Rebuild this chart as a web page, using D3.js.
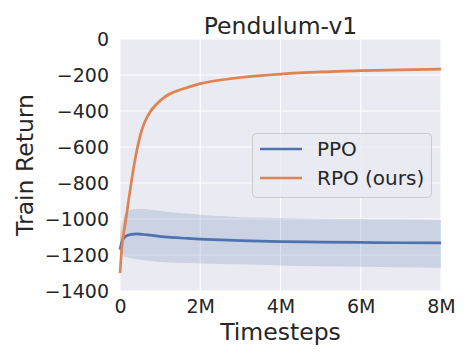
<!DOCTYPE html>
<html>
<head>
<meta charset="utf-8">
<script src="https://cdn.jsdelivr.net/npm/d3@7"></script>
<style>
  body { margin: 0; background: #fff; }
  svg { font-family: "DejaVu Sans", sans-serif; }
</style>
</head>
<body>
<svg id="chart" width="470" height="360"></svg>
<script>
// timesteps in millions
const steps = [0, 0.05, 0.12, 0.2, 0.3, 0.4, 0.5, 0.6, 0.75, 0.9, 1.1, 1.4, 1.7, 2, 2.5, 3, 4, 5, 6, 7, 8];

const rpoMean = [-1300, -1150, -1040, -920, -770, -640, -540, -470, -405, -365, -325, -290, -268, -248, -228, -214, -195, -183, -176, -171, -167];
const rpoHigh = [-1000, -1100, -1000, -885, -740, -615, -518, -452, -390, -352, -314, -281, -260, -241, -221, -208, -189, -177, -170, -165, -161];
const rpoLow = [-1320, -1210, -1085, -955, -800, -665, -562, -488, -420, -378, -336, -299, -276, -255, -235, -220, -201, -189, -182, -177, -173];

const ppoMean = [-1170, -1125, -1100, -1090, -1085, -1083, -1084, -1086, -1090, -1094, -1099, -1104, -1108, -1112, -1116, -1120, -1126, -1128, -1130, -1132, -1133];
const ppoHigh = [-1110, -1030, -975, -955, -947, -944, -944, -945, -948, -952, -958, -965, -970, -976, -984, -990, -995, -998, -1000, -1002, -1005];
const ppoLow = [-1230, -1205, -1208, -1214, -1219, -1223, -1226, -1229, -1233, -1236, -1240, -1243, -1245, -1247, -1250, -1252, -1258, -1262, -1265, -1268, -1272];

const xTicks = [0, 2, 4, 6, 8];
const xTickLabels = ['0', '2M', '4M', '6M', '8M'];
const yTicks = [0, -200, -400, -600, -800, -1000, -1200, -1400];

const series = [
    {name: 'PPO', color: '#4C72B0', mean: ppoMean, high: ppoHigh, low: ppoLow},
    {name: 'RPO (ours)', color: '#DD8452', mean: rpoMean, high: rpoHigh, low: rpoLow}
];

const margin = {left: 120, right: 29, top: 39, bottom: 69};
const width = 470, height = 360;
const textColor = '#262626';

const svg = d3.select('#chart');

const x = d3.scaleLinear().domain([0, 8]).range([margin.left, width - margin.right]);
const y = d3.scaleLinear().domain([-1400, 0]).range([height - margin.bottom, margin.top]);

// background
svg.append('rect')
    .attr('x', x(0)).attr('y', y(0))
    .attr('width', x(8) - x(0)).attr('height', y(-1400) - y(0))
    .attr('fill', '#EAEAF2');

// grid
svg.append('g').selectAll('line').data(xTicks).join('line')
    .attr('x1', d => x(d)).attr('x2', d => x(d))
    .attr('y1', y(0)).attr('y2', y(-1400))
    .attr('stroke', '#fff').attr('stroke-width', 1.1);
svg.append('g').selectAll('line').data(yTicks).join('line')
    .attr('x1', x(0)).attr('x2', x(8))
    .attr('y1', d => y(d)).attr('y2', d => y(d))
    .attr('stroke', '#fff').attr('stroke-width', 1.1);

const plot = svg.append('g');

const area = (s) => d3.area()
    .x((d, i) => x(steps[i]))
    .y0((d, i) => y(s.low[i]))
    .y1((d, i) => y(s.high[i]))
    .curve(d3.curveMonotoneX);

const line = d3.line()
    .x((d, i) => x(steps[i]))
    .y(d => y(d))
    .curve(d3.curveMonotoneX);

series.forEach(s => {
    plot.append('path')
        .datum(s.mean)
        .attr('d', area(s))
        .attr('fill', s.color)
        .attr('fill-opacity', 0.2)
        .attr('stroke', 'none');
});
series.forEach(s => {
    plot.append('path')
        .datum(s.mean)
        .attr('d', line)
        .attr('fill', 'none')
        .attr('stroke', s.color)
        .attr('stroke-width', 2.7);
});

// axes (no domain lines, seaborn darkgrid)
const xAxis = svg.append('g')
    .attr('transform', `translate(0,${y(-1400)})`)
    .call(d3.axisBottom(x).tickValues(xTicks).tickFormat((d, i) => xTickLabels[i]).tickSize(0).tickPadding(9));
const yAxis = svg.append('g')
    .attr('transform', `translate(${x(0)},0)`)
    .call(d3.axisLeft(y).tickValues(yTicks).tickFormat(d => d < 0 ? '\u2212' + Math.abs(d) : d).tickSize(0).tickPadding(11));
[xAxis, yAxis].forEach(a => {
    a.select('.domain').remove();
    a.selectAll('text')
        .attr('fill', textColor)
        .style('font-size', '19px')
        .style('font-family', '"DejaVu Sans", sans-serif');
});
xAxis.selectAll('text').attr('dy', '0.71em');

// title and labels
svg.append('text')
    .attr('x', (x(0) + x(8)) / 2).attr('y', 34)
    .attr('text-anchor', 'middle')
    .attr('fill', textColor)
    .style('font-size', '23.5px')
    .text('Pendulum-v1');

svg.append('text')
    .attr('x', (x(0) + x(8)) / 2).attr('y', 340)
    .attr('text-anchor', 'middle')
    .attr('fill', textColor)
    .style('font-size', '23.5px')
    .text('Timesteps');

svg.append('text')
    .attr('transform', `translate(33,${(y(0) + y(-1400)) / 2}) rotate(-90)`)
    .attr('text-anchor', 'middle')
    .attr('fill', textColor)
    .style('font-size', '23.5px')
    .text('Train Return');

// legend
const legend = svg.append('g').attr('transform', 'translate(252,133)');
legend.append('rect')
    .attr('x', 0.5).attr('y', 0.5)
    .attr('width', 179).attr('height', 64)
    .attr('rx', 4)
    .attr('fill', '#EAEAF2')
    .attr('fill-opacity', 0.8)
    .attr('stroke', '#CCCCCC')
    .attr('stroke-width', 1);

const items = legend.selectAll('g.item').data(series).join('g')
    .attr('class', 'item')
    .attr('transform', (d, i) => `translate(0,${16 + i * 29})`);
items.append('line')
    .attr('x1', 8).attr('x2', 50)
    .attr('stroke', d => d.color)
    .attr('stroke-width', 2.7);
items.append('text')
    .attr('x', 65).attr('dy', '0.35em')
    .attr('fill', textColor)
    .style('font-size', '20px')
    .text(d => d.name);
</script>
</body>
</html>
